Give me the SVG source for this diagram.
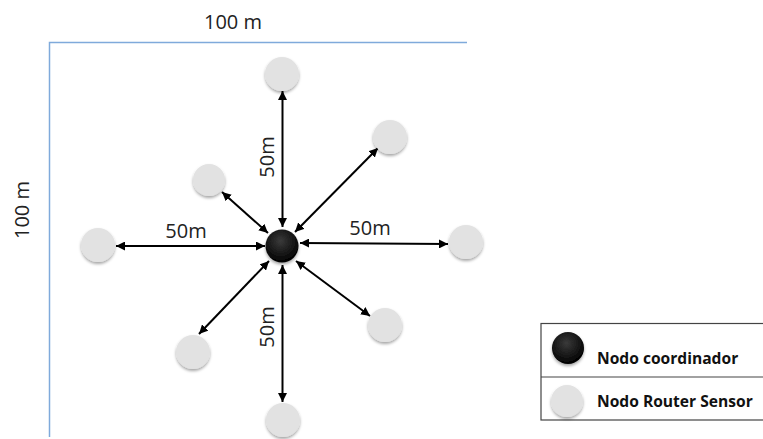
<svg xmlns="http://www.w3.org/2000/svg" width="763" height="439" viewBox="0 0 763 439">
<defs>
<style>
.lbl{font-family:"Open Sans","Liberation Sans",sans-serif;font-size:20px;fill:#222}
.leg{font-family:"Open Sans","Liberation Sans",sans-serif;font-size:15.6px;font-weight:bold;fill:#111}
.router{fill:#e2e2e2}
.coord{fill:url(#blk)}
.conn{stroke:#000;stroke-width:2;fill:none;marker-start:url(#ah);marker-end:url(#ah)}
.border{stroke:#7faadb;stroke-width:1.5;fill:none}
</style>
<radialGradient id="blk" cx="0.45" cy="0.35" r="0.65">
<stop offset="0" stop-color="#3a3a3a"/>
<stop offset="1" stop-color="#000"/>
</radialGradient>
<filter id="sh" x="-30%" y="-30%" width="160%" height="170%">
<feDropShadow dx="0" dy="2" stdDeviation="1.5" flood-color="#000" flood-opacity="0.35"/>
</filter>
<marker id="ah" viewBox="0 0 10 10" refX="10" refY="5" markerWidth="4.5" markerHeight="4.5" orient="auto-start-reverse" markerUnits="strokeWidth">
<path d="M0,0 L10,5 L0,10 z" fill="#000"/>
</marker>
</defs>
<g id="border">
<path class="border" d="M467,42.5 H49.5 V437"/>
<text class="lbl" x="233" y="29" text-anchor="middle">100 m</text>
<text class="lbl" x="0" y="0" text-anchor="middle" transform="translate(29,210) rotate(-90)">100 m</text>
</g>
<g id="connectors">
<line class="conn" x1="282.5" y1="227" x2="282.5" y2="91"/>
<line class="conn" x1="282.5" y1="265" x2="282.5" y2="402"/>
<line class="conn" x1="265" y1="246" x2="116" y2="246"/>
<line class="conn" x1="300" y1="243" x2="448" y2="244"/>
<line class="conn" x1="295" y1="232" x2="378" y2="148"/>
<line class="conn" x1="268" y1="233" x2="222" y2="192"/>
<line class="conn" x1="296" y1="261" x2="370" y2="316"/>
<line class="conn" x1="269" y1="261" x2="199" y2="334"/>
<text class="lbl" x="0" y="0" text-anchor="middle" transform="translate(274,157) rotate(-90)">50m</text>
<text class="lbl" x="0" y="0" text-anchor="middle" transform="translate(274,327) rotate(-90)">50m</text>
<text class="lbl" x="186" y="238" text-anchor="middle">50m</text>
<text class="lbl" x="370" y="235" text-anchor="middle">50m</text>
</g>
<g id="coordinator"><circle class="coord" cx="282" cy="246" r="16.5" filter="url(#sh)"/></g>
<g id="n-top"><circle class="router" cx="282" cy="74" r="17" filter="url(#sh)"/></g>
<g id="n-bottom"><circle class="router" cx="283" cy="420" r="17" filter="url(#sh)"/></g>
<g id="n-left"><circle class="router" cx="98" cy="245" r="17" filter="url(#sh)"/></g>
<g id="n-right"><circle class="router" cx="466" cy="242" r="17" filter="url(#sh)"/></g>
<g id="n-ur"><circle class="router" cx="390" cy="137" r="17" filter="url(#sh)"/></g>
<g id="n-ul"><circle class="router" cx="209" cy="180" r="16" filter="url(#sh)"/></g>
<g id="n-lr"><circle class="router" cx="385" cy="325" r="17" filter="url(#sh)"/></g>
<g id="n-ll"><circle class="router" cx="193" cy="352" r="17" filter="url(#sh)"/></g>
<g id="legend">
<rect x="541" y="323.5" width="225" height="96.5" fill="#fff" stroke="#444" stroke-width="1.2"/>
<line x1="541" y1="377" x2="763" y2="377" stroke="#444" stroke-width="1.2"/>
<circle class="coord" cx="568" cy="348" r="16" filter="url(#sh)"/>
<text class="leg" x="597" y="364">Nodo coordinador</text>
<circle class="router" cx="567" cy="401" r="16" filter="url(#sh)"/>
<text class="leg" x="597" y="407">Nodo Router Sensor</text>
</g>
</svg>
